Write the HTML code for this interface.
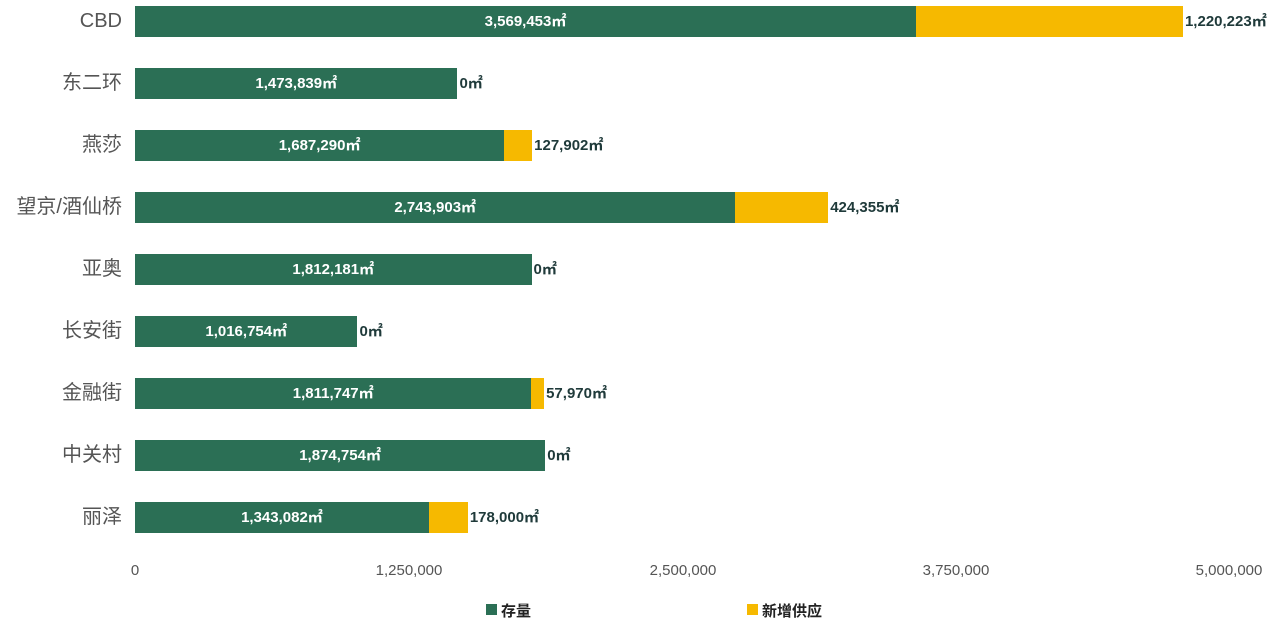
<!DOCTYPE html>
<html><head><meta charset="utf-8"><style>
body{margin:0;width:1280px;height:632px;background:#fff;position:relative;overflow:hidden;font-family:"Liberation Sans","Noto Sans CJK SC",sans-serif}
.b{position:absolute;height:31px}
.g{background:#2b6f55}.y{background:#f6b900}
.in{position:absolute;color:#fff;font-size:15px;line-height:31px;text-align:center;font-weight:bold}
.out{position:absolute;color:#1f3a3a;font-size:15px;line-height:31px;font-weight:bold}
.cat{position:absolute;right:1158px;color:#555;font-size:20px;line-height:31px;text-align:right;white-space:nowrap}
.t{position:absolute;top:562px;color:#555;font-size:15px;transform:translateX(-50%)}
.lg{position:absolute;top:600px;font-size:15px;font-weight:bold;color:#222}
.sq{position:absolute;top:604px;width:11px;height:11px}
</style></head><body>
<div id="c"></div>
<div class="t" style="left:135px">0</div>
<div class="t" style="left:409px">1,250,000</div>
<div class="t" style="left:683px">2,500,000</div>
<div class="t" style="left:956px">3,750,000</div>
<div class="t" style="left:1229px">5,000,000</div>
<div class="sq g" style="left:486px"></div><div class="lg" style="left:501px">存量</div>
<div class="sq y" style="left:747px"></div><div class="lg" style="left:762px">新增供应</div>
<script>
var d=[["CBD",3569453,1220223],["东二环",1473839,0],["燕莎",1687290,127902],["望京/酒仙桥",2743903,424355],["亚奥",1812181,0],["长安街",1016754,0],["金融街",1811747,57970],["中关村",1874754,0],["丽泽",1343082,178000]];
var s=0.0002188,h="";
function f(n){return n.toLocaleString("en-US")+"㎡"}
d.forEach(function(r,i){var top=6+i*62,w1=r[1]*s,w2=r[2]*s;
h+='<div class="cat" style="top:'+top+'px">'+r[0]+'</div>';
h+='<div class="b g" style="left:135px;top:'+top+'px;width:'+w1+'px"></div>';
h+='<div class="in" style="left:135px;top:'+top+'px;width:'+w1+'px">'+f(r[1])+'</div>';
if(w2>0)h+='<div class="b y" style="left:'+(135+w1)+'px;top:'+top+'px;width:'+w2+'px"></div>';
h+='<div class="out" style="left:'+(135+w1+w2+2)+'px;top:'+top+'px">'+f(r[2])+'</div>';});
document.getElementById("c").innerHTML=h;
</script>
</body></html>
